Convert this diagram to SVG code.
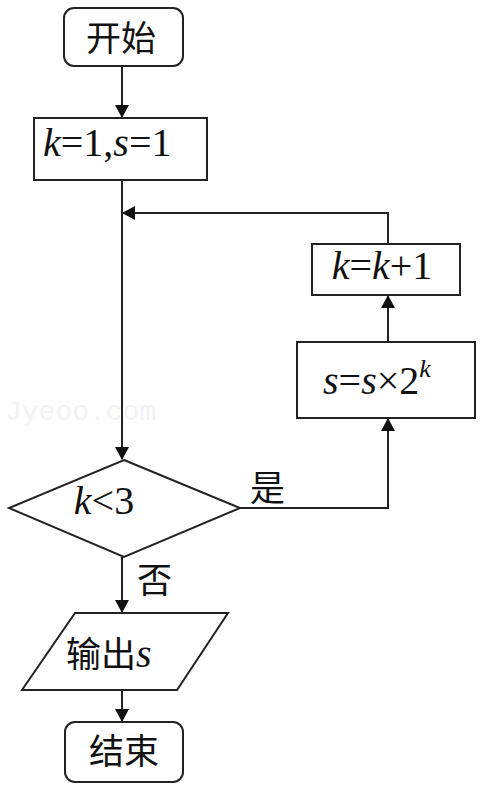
<svg xmlns="http://www.w3.org/2000/svg" width="486" height="789" viewBox="0 0 486 789">
<style>
.s{fill:#fff;stroke:#222;stroke-width:2}
.c{fill:none;stroke:#222;stroke-width:2}
.zh{font-family:"Noto Sans CJK SC","Noto Sans",sans-serif;font-size:35px;fill:#111}
.m{font-family:"Liberation Serif",serif;font-size:40px;fill:#111}
.i{font-style:italic}
</style>
<defs>
<marker id="a" markerWidth="14" markerHeight="14" refX="12" refY="7" orient="auto" markerUnits="userSpaceOnUse" viewBox="0 0 14 14">
<path d="M0,0 L13,7 L0,14 z" fill="#111"/>
</marker>
</defs>
<text x="5" y="420" font-family="Liberation Mono,monospace" font-size="28" fill="#f0f2f6">Jyeoo.com</text>
<g id="edges">
<line class="c" x1="122" y1="67" x2="122" y2="117" marker-end="url(#a)"/>
<line class="c" x1="122" y1="180" x2="122" y2="459" marker-end="url(#a)"/>
<line class="c" x1="122" y1="557" x2="122" y2="612" marker-end="url(#a)"/>
<line class="c" x1="122" y1="690" x2="122" y2="721" marker-end="url(#a)"/>
<polyline class="c" points="240,508 388,508 388,419" marker-end="url(#a)"/>
<line class="c" x1="388" y1="342" x2="388" y2="296" marker-end="url(#a)"/>
<polyline class="c" points="388,244 388,213 123,213" marker-end="url(#a)"/>
<text class="zh" x="250" y="501">是</text>
<text class="zh" x="137" y="593">否</text>
</g>
<g id="start">
<rect class="s" x="64" y="8" width="119" height="58" rx="10"/>
<text class="zh" x="121" y="51" text-anchor="middle">开始</text>
</g>
<g id="init">
<rect class="s" x="34" y="118" width="173" height="62"/>
<text class="m" x="43" y="156"><tspan class="i">k</tspan>=1,<tspan class="i">s</tspan>=1</text>
</g>
<g id="inc">
<rect class="s" x="312" y="244" width="148" height="51"/>
<text class="m" x="382" y="279" text-anchor="middle"><tspan class="i">k</tspan>=<tspan class="i">k</tspan>+1</text>
</g>
<g id="mul">
<rect class="s" x="297" y="342" width="178" height="76"/>
<text class="m" x="323" y="394"><tspan class="i">s</tspan>=<tspan class="i">s</tspan>×2<tspan class="i" font-size="26" dy="-17">k</tspan></text>
</g>
<g id="cond">
<polygon class="s" points="124,460 240,508 124,557 9,508"/>
<text class="m" x="104" y="514" text-anchor="middle"><tspan class="i">k</tspan>&lt;3</text>
</g>
<g id="out">
<polygon class="s" points="75,613 228,613 177,690 22,690"/>
<text x="66" y="667"><tspan class="zh">输出</tspan><tspan class="m i">s</tspan></text>
</g>
<g id="end">
<rect class="s" x="65" y="722" width="118" height="60" rx="10"/>
<text class="zh" x="124" y="764" text-anchor="middle">结束</text>
</g>
</svg>
